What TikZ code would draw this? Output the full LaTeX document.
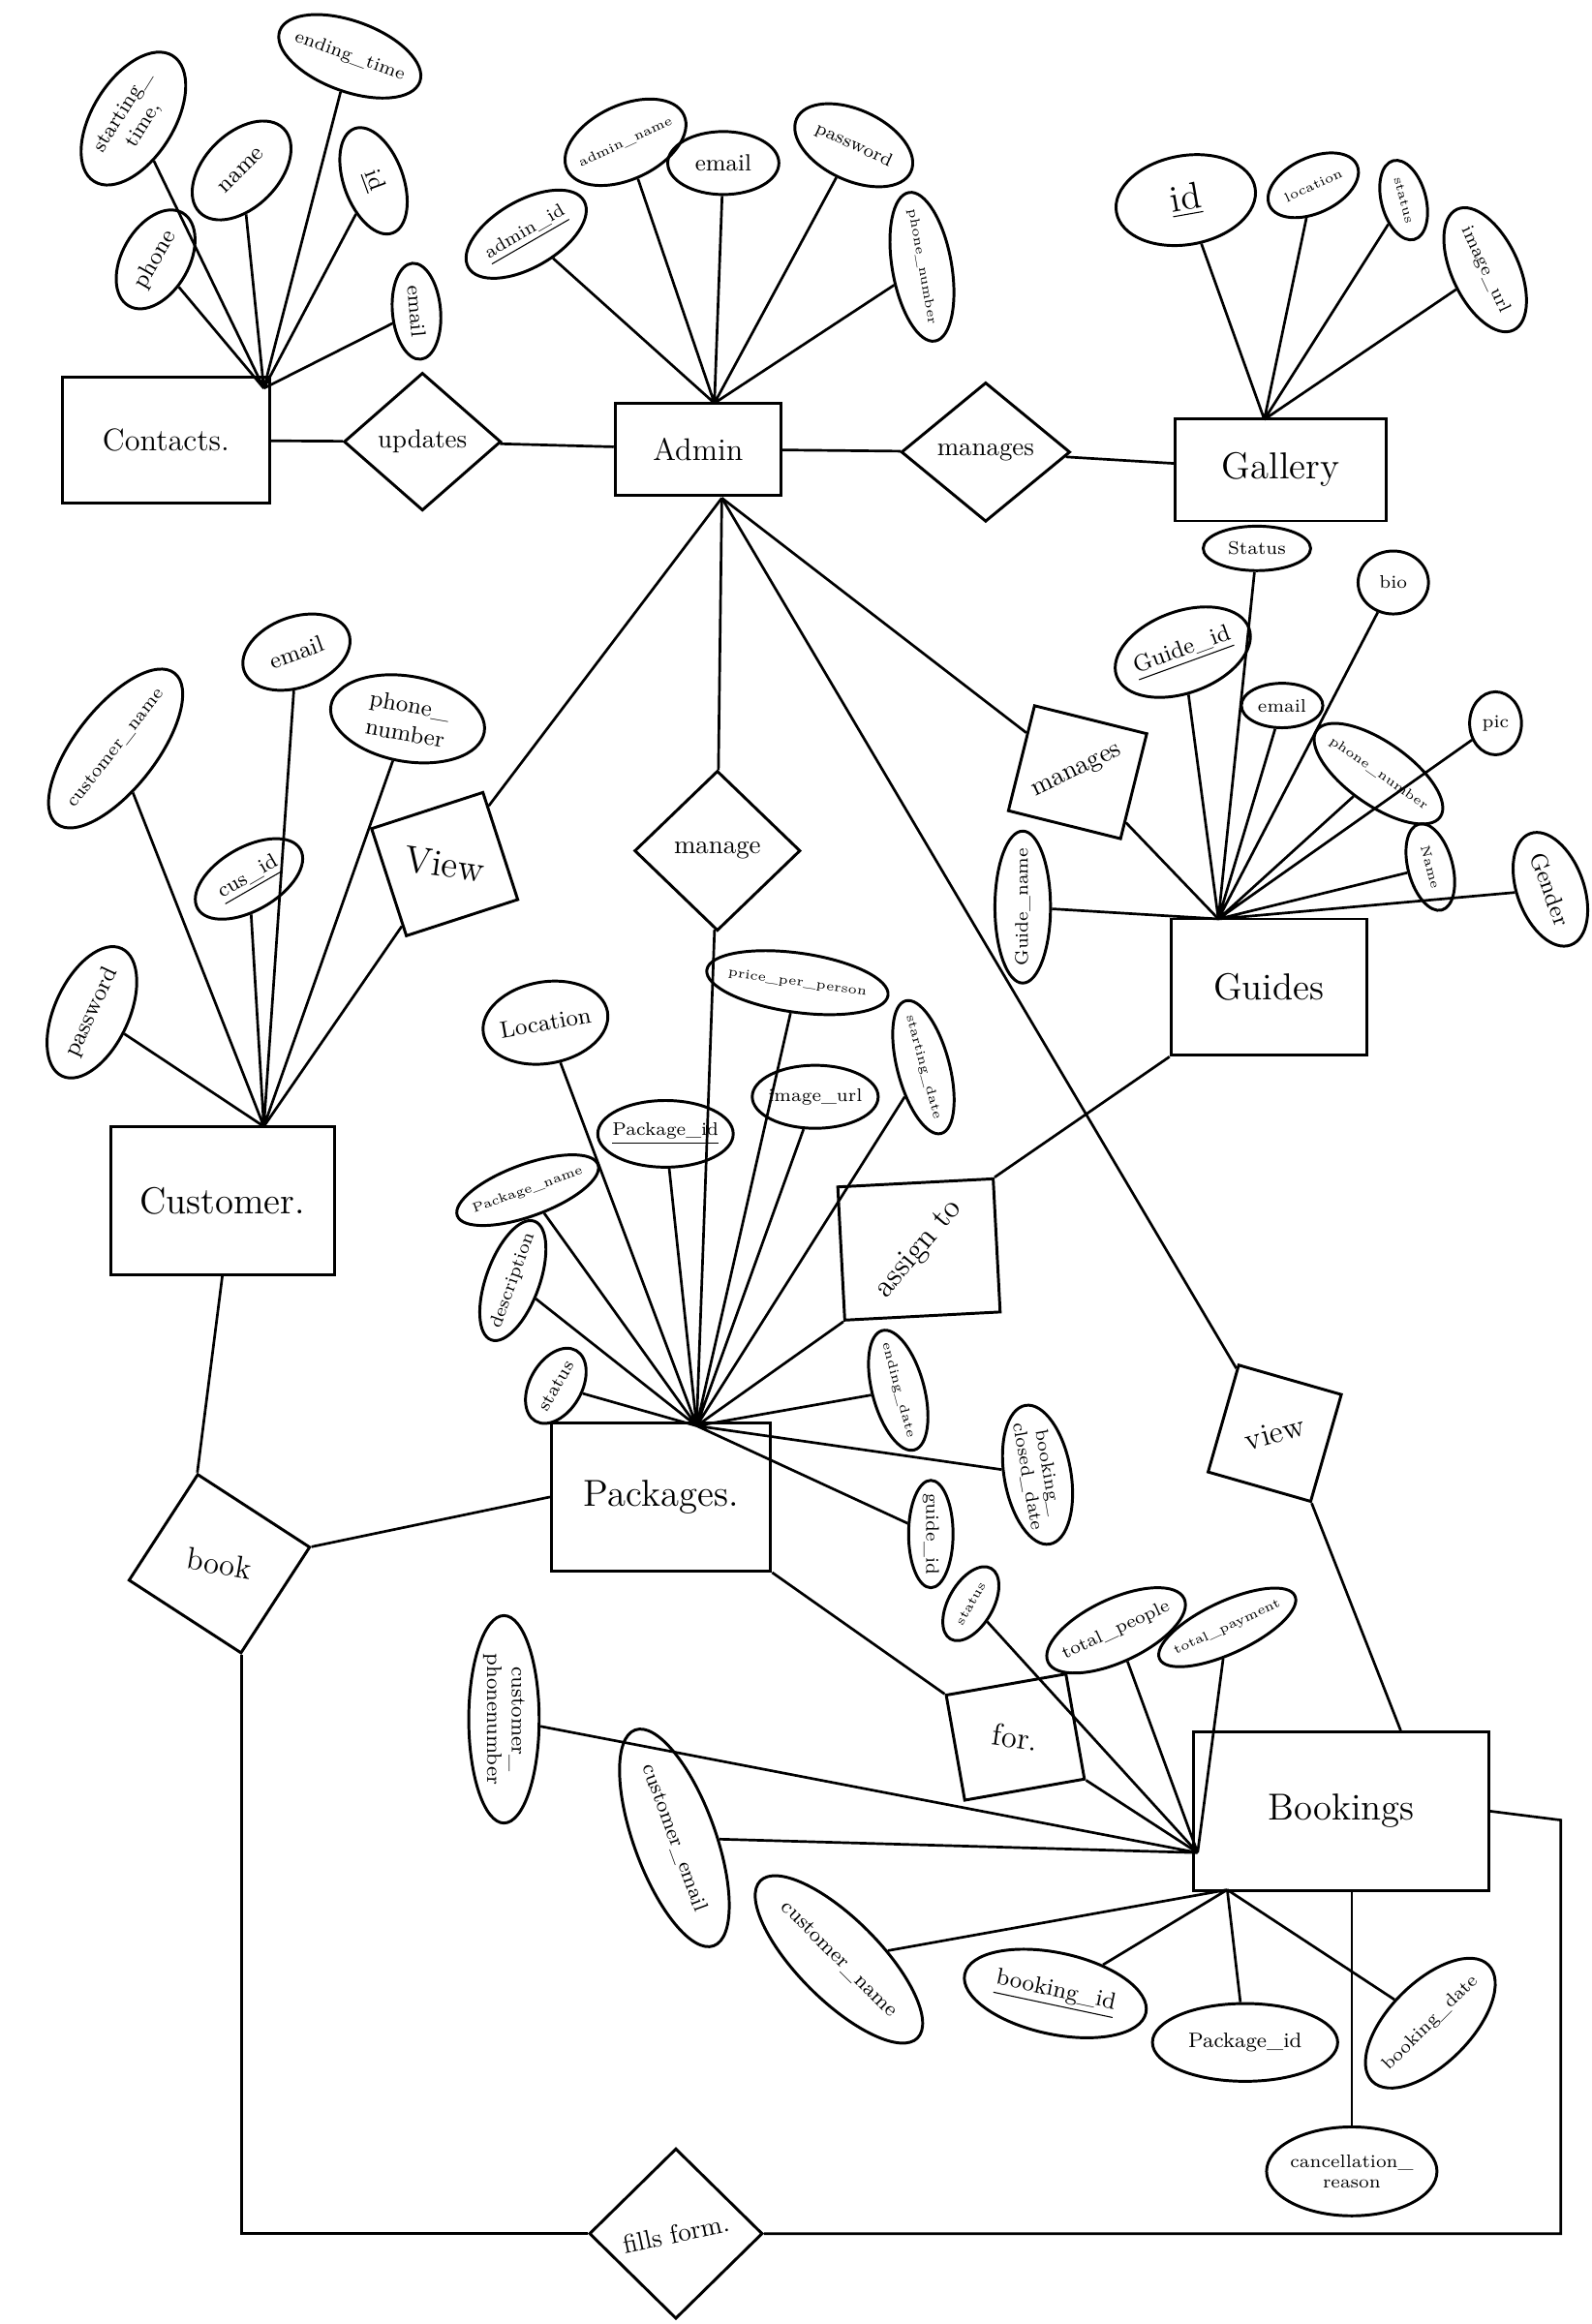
\documentclass[tikz,border=0pt]{standalone}
\usepackage{graphicx}
\usepackage{tikz}
\usetikzlibrary{shapes.geometric,positioning}

\tikzset{
  entity/.style={draw, rectangle, line width=1.1pt, font=\Large},
  attr/.style={draw, ellipse, line width=1.1pt, inner xsep=-2pt, inner ysep=0pt, align=center, font=\small},
  rel/.style={draw, diamond, line width=1.1pt, inner sep=1pt},
  relbox/.style={draw, rectangle, line width=1.1pt, inner sep=1pt, font=\large},
  link/.style={line width=1pt}
}

\begin{document}
\begin{tikzpicture}[x=0.02cm, y=-0.02cm]
\useasboundingbox (0,0) rectangle (1074,1568);

% entities
\node[entity, minimum width=2.8cm, minimum height=1.7cm, font=\large] (contacts) at (112,297) {Contacts.};
\node[entity, minimum width=2.24cm, minimum height=1.24cm, font=\large] (admin) at (471,303) {Admin};
\node[entity, minimum width=2.84cm, minimum height=1.38cm] (gallery) at (864,317) {Gallery};
\node[entity, minimum width=2.64cm, minimum height=1.84cm] (guides) at (856,666) {Guides};
\node[entity, minimum width=3.02cm, minimum height=2cm] (customer) at (150,810) {Customer.};
\node[entity, minimum width=2.96cm, minimum height=2cm] (packages) at (446,1010) {Packages.};
\node[entity, minimum width=3.98cm, minimum height=2.14cm] (bookings) at (905,1222) {Bookings};

% relationships
\node[rel, minimum width=2.12cm, minimum height=1.86cm] (updates) at (285,298) {updates};
\node[rel, minimum width=2.28cm, minimum height=1.88cm] (managesGal) at (665,305) {manages};
\node[rel, minimum width=2.24cm, minimum height=2.16cm] (manage) at (484,574) {manage};
\node[rel, minimum width=2.34cm, minimum height=2.3cm] (fills) at (456,1507) {\rotatebox{12}{fills form.}};
\node[relbox, rotate=18, minimum width=1.58cm, minimum height=1.52cm, font=\Large] (viewCus) at (300,583) {\rotatebox{-26}{View}};
\node[relbox, rotate=-14, minimum width=1.56cm, minimum height=1.46cm, font=\normalsize] (managesGd) at (727,521) {\rotatebox{40}{manages}};
\node[relbox, rotate=3, minimum width=2.1cm, minimum height=1.8cm] (assign) at (620,843) {\rotatebox{47}{assign to}};
\node[relbox, rotate=-16, minimum width=1.44cm, minimum height=1.5cm] (viewBk) at (860,967) {\rotatebox{31}{view}};
\node[relbox, rotate=-33, minimum width=1.8cm, minimum height=1.7cm] (book) at (148,1055) {\rotatebox{23}{book}};
\node[relbox, rotate=10, minimum width=1.64cm, minimum height=1.44cm] (forRel) at (685,1172) {\rotatebox{-18}{for.}};

% contacts attributes
\node[attr, rotate=58, minimum width=2cm, minimum height=1.1cm, font=\footnotesize] (ctStart) at (90,80) {starting\_\\time,};
\node[attr, rotate=45, minimum width=1.6cm, minimum height=1cm] (ctName) at (163,115) {name};
\node[attr, rotate=-20, minimum width=1.9cm, minimum height=0.95cm, font=\scriptsize] (ctEnd) at (236,38) {ending\_time};
\node[attr, rotate=-70, minimum width=1.5cm, minimum height=0.8cm] (ctId) at (252,122) {\underline{id}};
\node[attr, rotate=60, minimum width=1.45cm, minimum height=0.9cm] (ctPhone) at (105,175) {phone};
\node[attr, rotate=-85, minimum width=1.3cm, minimum height=0.65cm, font=\footnotesize] (ctEmail) at (281,210) {email};

% admin attributes
\node[attr, rotate=30, minimum width=1.8cm, minimum height=0.9cm, font=\scriptsize] (adId) at (355,158) {\underline{admin\_id}};
\node[attr, rotate=25, minimum width=1.7cm, minimum height=1cm, font=\tiny] (adName) at (422,96) {admin\_name};
\node[attr, minimum width=1.5cm, minimum height=0.85cm] (adEmail) at (488,110) {email};
\node[attr, rotate=-25, minimum width=1.7cm, minimum height=0.95cm, font=\scriptsize] (adPass) at (576,98) {password};
\node[attr, rotate=-80, minimum width=1.7cm, minimum height=0.8cm, font=\tiny] (adPhone) at (622,180) {phone\_number};

% gallery attributes
\node[attr, rotate=10, minimum width=1.9cm, minimum height=1.2cm, font=\Large] (gaId) at (800,135) {\underline{id}};
\node[attr, rotate=25, minimum width=1.3cm, minimum height=0.75cm, font=\tiny] (gaLoc) at (886,125) {location};
\node[attr, rotate=-75, minimum width=1.1cm, minimum height=0.6cm, font=\tiny] (gaStatus) at (947,135) {status};
\node[attr, rotate=-65, minimum width=1.8cm, minimum height=0.9cm, font=\scriptsize] (gaImg) at (1002,182) {image\_url};

% guides attributes
\node[attr, minimum width=1.45cm, minimum height=0.6cm, font=\scriptsize] (gdStatus) at (848,370) {Status};
\node[attr, minimum width=0.95cm, minimum height=0.85cm, font=\scriptsize] (gdBio) at (940,393) {bio};
\node[attr, rotate=20, minimum width=1.9cm, minimum height=1.1cm] (gdId) at (798,440) {\underline{Guide\_id}};
\node[attr, minimum width=1.1cm, minimum height=0.6cm, font=\scriptsize] (gdEmail) at (865,476) {email};
\node[attr, rotate=-35, minimum width=1.5cm, minimum height=0.85cm, font=\tiny] (gdPhone) at (930,522) {phone\_number};
\node[attr, minimum width=0.7cm, minimum height=0.85cm, font=\scriptsize] (gdPic) at (1009,488) {pic};
\node[attr, rotate=-75, minimum width=1.2cm, minimum height=0.6cm, font=\tiny] (gdName) at (965,585) {Name};
\node[attr, rotate=-70, minimum width=1.6cm, minimum height=0.9cm] (gdGender) at (1046,600) {Gender};
\node[attr, rotate=90, minimum width=1.9cm, minimum height=0.75cm, font=\scriptsize] (gdGname) at (690,612) {Guide\_name};

% customer attributes
\node[attr, rotate=52, minimum width=2.2cm, minimum height=1.1cm, font=\scriptsize] (cuName) at (78,505) {customer\_name};
\node[attr, rotate=20, minimum width=1.5cm, minimum height=0.95cm] (cuEmail) at (200,440) {email};
\node[attr, rotate=-10, minimum width=2.1cm, minimum height=1.15cm] (cuPhone) at (275,485) {phone\_\\number};
\node[attr, rotate=30, minimum width=1.6cm, minimum height=0.85cm, font=\footnotesize] (cuId) at (168,593) {\underline{cus\_id}};
\node[attr, rotate=65, minimum width=1.9cm, minimum height=1cm] (cuPass) at (62,683) {password};

% packages attributes
\node[attr, rotate=10, minimum width=1.7cm, minimum height=1.1cm] (pkLoc) at (368,690) {Location};
\node[attr, minimum width=1.75cm, minimum height=0.9cm, font=\scriptsize] (pkId) at (449,765) {\underline{Package\_id}};
\node[attr, rotate=20, minimum width=1.5cm, minimum height=0.7cm, font=\tiny] (pkName) at (356,803) {Package\_name};
\node[attr, rotate=70, minimum width=1.35cm, minimum height=0.72cm, font=\scriptsize] (pkDesc) at (346,864) {description};
\node[attr, rotate=60, minimum width=1.1cm, minimum height=0.7cm, font=\scriptsize] (pkStatus) at (375,935) {status};
\node[attr, rotate=-8, minimum width=1.9cm, minimum height=0.8cm, font=\tiny] (pkPrice) at (538,663) {price\_per\_person};
\node[attr, minimum width=1.7cm, minimum height=0.85cm, font=\scriptsize] (pkImg) at (550,740) {image\_url};
\node[attr, rotate=-75, minimum width=1.5cm, minimum height=0.7cm, font=\tiny] (pkStart) at (623,720) {starting\_date};
\node[attr, rotate=-75, minimum width=1.55cm, minimum height=0.7cm, font=\tiny] (pkEnd) at (606,938) {ending\_date};
\node[attr, rotate=-90, minimum width=1.45cm, minimum height=0.6cm, font=\scriptsize] (pkGuide) at (628,1035) {guide\_id};
\node[attr, rotate=-80, minimum width=1.9cm, minimum height=0.9cm, font=\scriptsize] (pkClosed) at (700,995) {booking\_\\closed\_date};

% bookings attributes
\node[attr, rotate=60, minimum width=1.1cm, minimum height=0.6cm, font=\tiny] (bkStatus) at (655,1082) {status};
\node[attr, rotate=25, minimum width=1.8cm, minimum height=0.85cm, font=\scriptsize] (bkPeople) at (753,1100) {total\_people};
\node[attr, rotate=25, minimum width=1.6cm, minimum height=0.7cm, font=\tiny] (bkPay) at (828,1098) {total\_payment};
\node[attr, rotate=-90, minimum width=2.8cm, minimum height=0.95cm, font=\footnotesize] (bkPhone) at (340,1160) {customer\_\\phonenumber};
\node[attr, rotate=-70, minimum width=3.1cm, minimum height=1.1cm, font=\footnotesize] (bkEmail) at (455,1240) {customer\_email};
\node[attr, rotate=-45, minimum width=3cm, minimum height=1.1cm, font=\footnotesize] (bkName) at (566,1322) {customer\_name};
\node[attr, rotate=-12, minimum width=2.5cm, minimum height=1.1cm] (bkId) at (712,1345) {\underline{booking\_id}};
\node[attr, minimum width=2.5cm, minimum height=1.05cm, font=\footnotesize] (bkPkg) at (840,1378) {Package\_id};
\node[attr, rotate=45, minimum width=2.1cm, minimum height=1.1cm, font=\scriptsize] (bkDate) at (965,1365) {booking\_date};
\node[attr, minimum width=2.3cm, minimum height=1.2cm, font=\scriptsize] (bkCancel) at (912,1465) {cancellation\_\\reason};

% meeting points
\coordinate (ctHub) at (178,262);
\coordinate (adHub) at (482,272);
\coordinate (adLow) at (487,336);
\coordinate (gaHub) at (853,283);
\coordinate (gdHub) at (822,620);
\coordinate (cuHub) at (178,760);
\coordinate (pkHub) at (470,962);
\coordinate (bkLeft) at (808,1250);
\coordinate (bkLow) at (828,1275);
\coordinate (rightTurn) at (1053,1228);

% attribute links
\draw[link] (ctHub) -- (ctStart) (ctHub) -- (ctName) (ctHub) -- (ctEnd)
  (ctHub) -- (ctId) (ctHub) -- (ctPhone) (ctHub) -- (ctEmail);
\draw[link] (adHub) -- (adId) (adHub) -- (adName) (adHub) -- (adEmail)
  (adHub) -- (adPass) (adHub) -- (adPhone);
\draw[link] (gaHub) -- (gaId) (gaHub) -- (gaLoc) (gaHub) -- (gaStatus) (gaHub) -- (gaImg);
\draw[link] (gdHub) -- (gdStatus) (gdHub) -- (gdBio) (gdHub) -- (gdId) (gdHub) -- (gdEmail)
  (gdHub) -- (gdPhone) (gdHub) -- (gdPic) (gdHub) -- (gdName) (gdHub) -- (gdGender)
  (gdHub) -- (gdGname);
\draw[link] (cuHub) -- (cuName) (cuHub) -- (cuEmail) (cuHub) -- (cuPhone)
  (cuHub) -- (cuId) (cuHub) -- (cuPass);
\draw[link] (pkHub) -- (pkLoc) (pkHub) -- (pkId) (pkHub) -- (pkName) (pkHub) -- (pkDesc)
  (pkHub) -- (pkStatus) (pkHub) -- (pkPrice) (pkHub) -- (pkImg) (pkHub) -- (pkStart)
  (pkHub) -- (pkEnd) (pkHub) -- (pkGuide) (pkHub) -- (pkClosed);
\draw[link] (bkLeft) -- (bkStatus) (bkLeft) -- (bkPeople) (bkLeft) -- (bkPay)
  (bkLeft) -- (bkPhone) (bkLeft) -- (bkEmail) (bkLow) -- (bkName)
  (bkLow) -- (bkId) (bkLow) -- (bkPkg) (bkLow) -- (bkDate);
\draw[link] (bkCancel) -- (bkCancel |- bookings.south);

% relationship links
\draw[link] (contacts) -- (updates) -- (admin) -- (managesGal) -- (gallery);
\draw[link] (adLow) -- (viewCus) -- (cuHub);
\draw[link] (adLow) -- (manage) -- (pkHub);
\draw[link] (adLow) -- (managesGd) -- (gdHub);
\draw[link] (adLow) -- (viewBk);
\draw[link] (viewBk.south east) -- ([xshift=0.8cm]bookings.north);
\draw[link] (guides.south west) -- (assign.north east);
\draw[link] (assign.south west) -- (pkHub);
\draw[link] (customer.south) -- (book.north west);
\draw[link] (book.north east) -- (packages.west);
\draw[link] (packages.south east) -- (forRel.north west);
\draw[link] (forRel.south east) -- (bkLeft);
\draw[link] (book.south east) |- (fills.west);
\draw[link] (fills.east) -| (rightTurn) -- (bookings.east);

\end{tikzpicture}
\end{document}
